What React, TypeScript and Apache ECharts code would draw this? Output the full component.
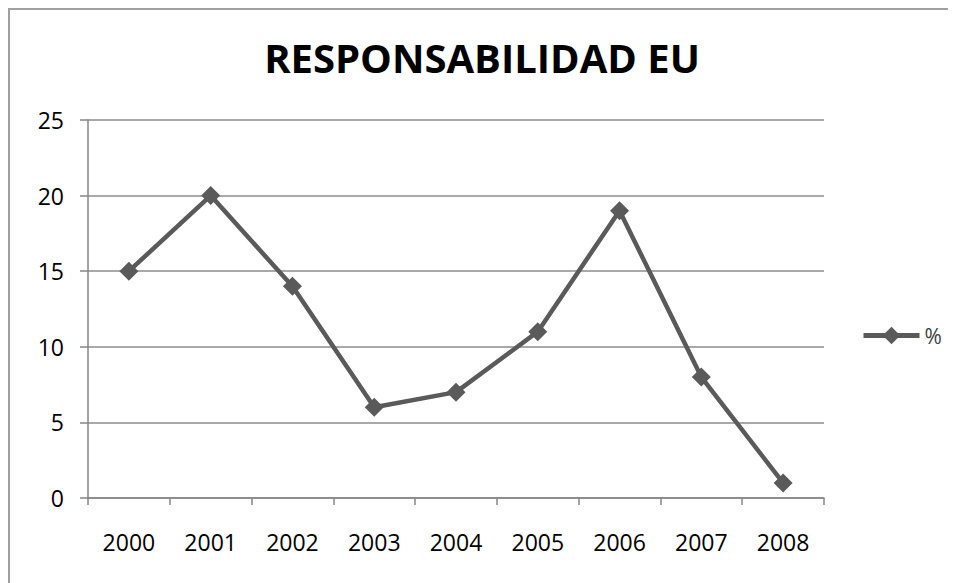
import React, { useEffect, useRef } from "react";
import * as echarts from "echarts";

const categories = ["2000", "2001", "2002", "2003", "2004", "2005", "2006", "2007", "2008"];
const values = [15, 20, 14, 6, 7, 11, 19, 8, 1];
const seriesName = "%";
const titleText = "RESPONSABILIDAD EU";

export default function App() {
  const ref = useRef<HTMLDivElement>(null);
  useEffect(() => {
    if (!ref.current) return;
    const chart = echarts.init(ref.current, null, { renderer: "svg" });
    chart.setOption({
      animation: false,
      backgroundColor: "#ffffff",
      title: {
        text: titleText,
        left: "center",
        top: 24,
        textStyle: { fontFamily: "'Open Sans'", fontWeight: "bold", fontSize: 40, color: "#000000" },
      },
      graphic: [
        {
          type: "rect",
          shape: { x: 1, y: 1, width: 2000, height: 2000 },
          style: { fill: "none", stroke: "#a0a0a0", lineWidth: 2 },
          silent: true,
        },
      ],
      legend: {
        left: 848,
        top: 312,
        itemWidth: 56,
        itemHeight: 22,
        itemGap: 4,
        lineStyle: { width: 5, color: "#5a5a5a" },
        textStyle: { fontFamily: "'Open Sans'", fontSize: 21, color: "#404040" },
        data: [{ name: seriesName }],
      },
      grid: { left: 80, right: 132, top: 112, bottom: 85, containLabel: false },
      xAxis: {
        type: "category",
        data: categories,
        boundaryGap: true,
        axisLine: { lineStyle: { color: "#868686", width: 1.5 } },
        axisTick: { show: true, length: 7, lineStyle: { color: "#868686", width: 1.5 } },
        axisLabel: { fontFamily: "'Open Sans'", fontSize: 23, color: "#000000", margin: 32 },
      },
      yAxis: {
        type: "value",
        min: 0,
        max: 25,
        interval: 5,
        axisLine: { show: true, lineStyle: { color: "#868686", width: 1.5 } },
        axisTick: { show: true, length: 8, lineStyle: { color: "#868686", width: 1.5 } },
        splitLine: { lineStyle: { color: "#8c8c8c", width: 1.5 } },
        axisLabel: { fontFamily: "'Open Sans'", fontSize: 23, color: "#000000", margin: 24 },
      },
      series: [
        {
          name: seriesName,
          type: "line",
          data: values,
          symbol: "diamond",
          symbolSize: 19,
          itemStyle: { color: "#5a5a5a" },
          lineStyle: { color: "#5a5a5a", width: 4.5 },
        },
      ],
    });
    return () => chart.dispose();
  }, []);
  return <div ref={ref} style={{ width: 948, height: 575 }} />;
}
